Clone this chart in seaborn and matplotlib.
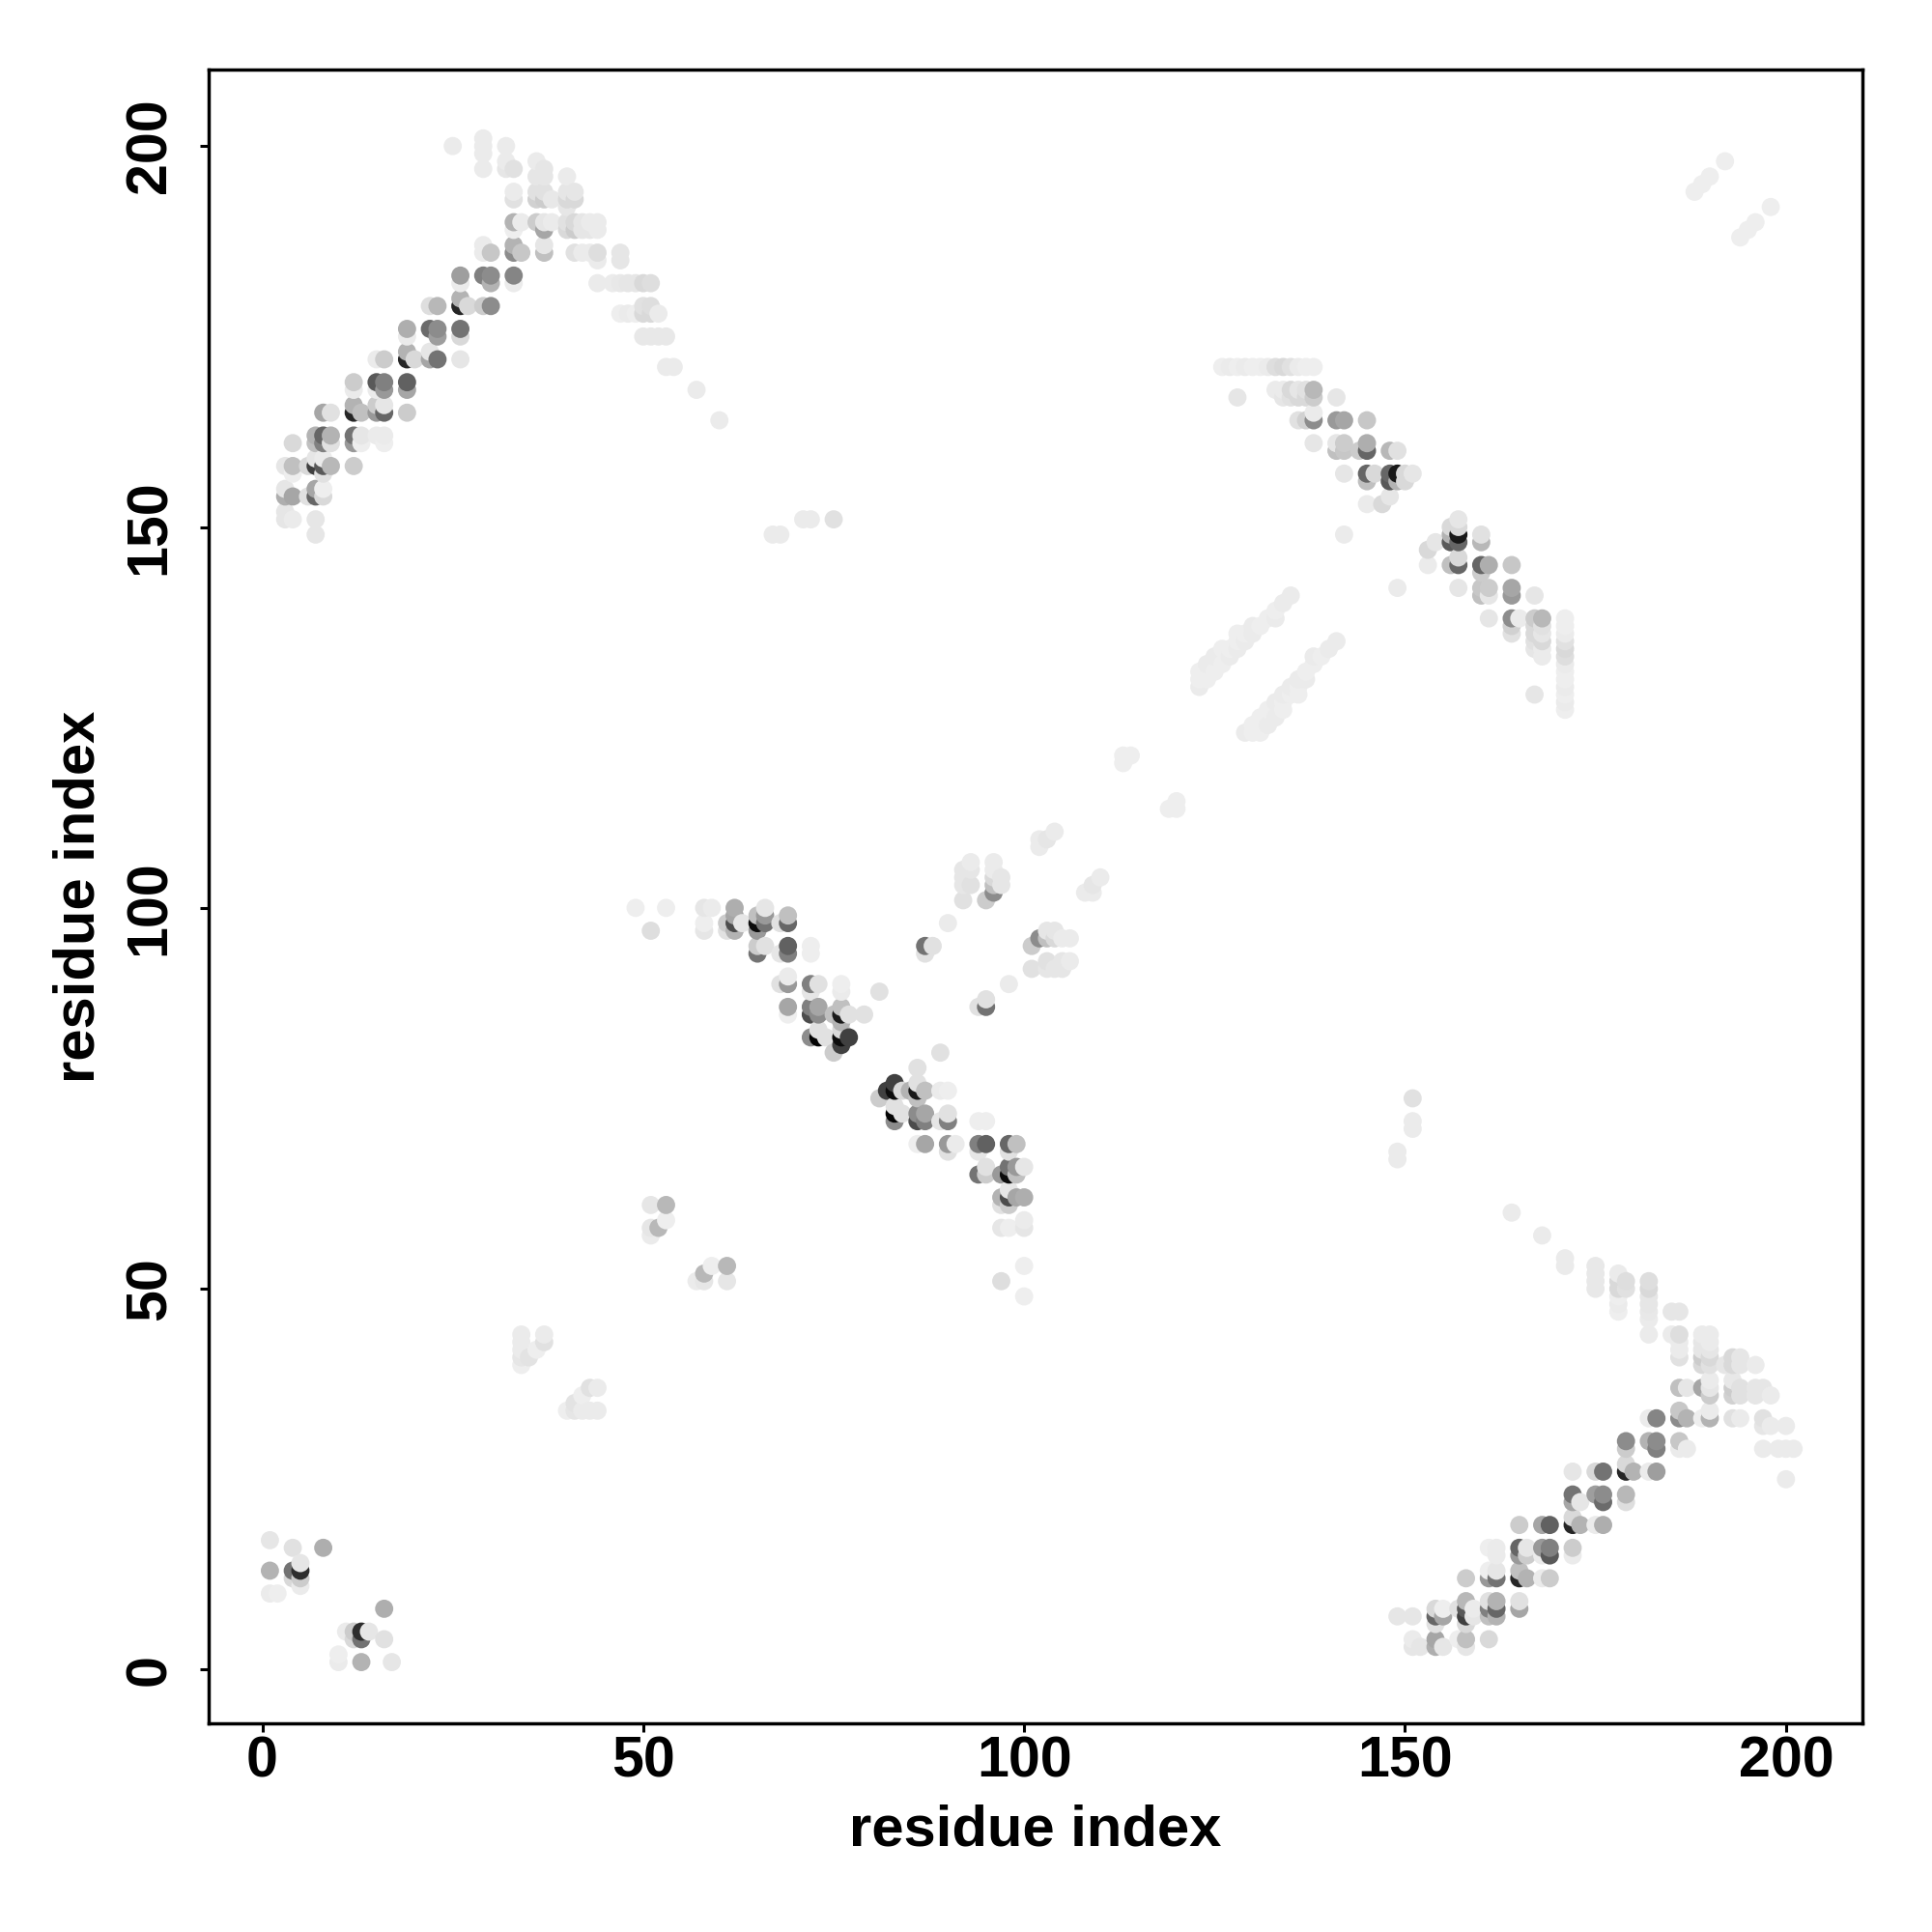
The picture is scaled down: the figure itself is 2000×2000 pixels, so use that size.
import matplotlib
matplotlib.use('Agg')
import matplotlib.pyplot as plt
import pandas as pd
import seaborn as sns

# contacts as (residue i, residue j, grey level), i < j, the map is symmetric
nterm_contacts = [
    (1, 17, .90), (4, 16, .88), (8, 16, .68), (1, 13, .70), (4, 13, .45), (5, 13, .18),
    (5, 14, .90), (4, 12, .85), (5, 12, .80), (5, 11, .92), (1, 10, .92), (2, 10, .93),
]

sheet_low = [
    (7, 149, .90), (3, 151, .90), (4, 151, .92), (7, 151, .90), (3, 152, .90),
    (3, 154, .68), (4, 154, .65), (6, 154, .88), (7, 154, .40), (8, 154, .85),
    (3, 155, .90), (7, 155, .65), (8, 155, .93), (4, 157, .93), (8, 157, .88),
    (3, 158, .90), (4, 158, .75), (6, 158, .85), (7, 158, .25), (8, 158, .35), (9, 158, .72), (12, 158, .80),
    (7, 159, .90), (8, 159, .92),
    (4, 161, .85), (7, 161, .75), (8, 161, .50), (9, 161, .88), (12, 161, .60), (13, 161, .93), (16, 161, .93),
    (7, 162, .70), (8, 162, .40), (9, 162, .70), (12, 162, .45), (13, 162, .90), (15, 162, .92), (16, 162, .92),
    (8, 165, .65), (9, 165, .88), (12, 165, .15), (13, 165, .75), (15, 165, .60), (16, 165, .40), (19, 165, .80),
    (12, 166, .70), (15, 166, .80), (16, 166, .90),
    (12, 168, .92), (15, 168, .92), (16, 168, .60), (19, 168, .65),
    (12, 169, .80), (15, 169, .35), (16, 169, .50), (19, 169, .38),
    (15, 172, .92), (16, 172, .80), (19, 172, .15), (20, 172, .85), (22, 172, .65), (23, 172, .45), (26, 172, .90),
    (19, 173, .70), (22, 173, .90),
]

sheet_high = [
    (19, 175, .92), (23, 175, .62), (26, 175, .85),
    (19, 176, .68), (22, 176, .42), (23, 176, .55), (26, 176, .45),
    (22, 179, .87), (23, 179, .72), (26, 179, .15), (27, 179, .85), (29, 179, .80), (30, 179, .55), (26, 180, .70),
    (26, 182, .92), (30, 182, .70), (33, 182, .92),
    (26, 183, .62), (29, 183, .50), (30, 183, .55), (33, 183, .52),
    (29, 186, .92), (30, 186, .78), (33, 186, .55), (34, 186, .78), (37, 186, .75),
    (29, 187, .92), (33, 187, .70), (37, 187, .90),
    (33, 189, .93), (37, 189, .65), (40, 189, .85), (41, 189, .80), (42, 189, .90), (43, 189, .90), (44, 189, .92),
    (33, 190, .70), (34, 190, .92), (36, 190, .80), (37, 190, .90), (38, 190, .92),
    (40, 190, .88), (41, 190, .85), (42, 190, .90), (43, 190, .92), (44, 190, .92),
    (40, 192, .90), (33, 193, .88), (36, 193, .82), (37, 193, .80), (38, 193, .91), (40, 193, .85), (41, 193, .85),
    (33, 194, .92), (36, 194, .88), (37, 194, .88), (40, 194, .90), (41, 194, .90),
    (36, 196, .90), (37, 196, .90), (40, 196, .92),
    (29, 197, .92), (32, 197, .90), (33, 197, .88), (37, 197, .90),
    (32, 198, .92), (36, 198, .92), (29, 199, .92), (25, 200, .92), (29, 200, .92), (32, 200, .92), (29, 201, .92),
]

sheet_tail = [
    (41, 186, .88), (42, 186, .92), (43, 186, .92), (44, 186, .87), (47, 186, .90), (44, 185, .92), (47, 185, .90),
    (44, 182, .92), (46, 182, .92), (47, 182, .91), (48, 182, .90), (49, 182, .90), (50, 182, .85), (51, 182, .87),
    (50, 179, .88), (51, 179, .87),
    (47, 178, .93), (48, 178, .92), (49, 178, .93), (50, 178, .85), (51, 178, .85), (52, 178, .92),
    (50, 175, .91), (51, 175, .91), (52, 175, .91), (53, 175, .91),
    (53, 171, .92), (54, 171, .92), (57, 168, .92), (60, 164, .92),
]

short_pairs = [
    (34, 40, .93), (34, 41, .90), (35, 41, .89), (34, 42, .92), (36, 42, .93), (34, 43, .92), (37, 43, .88),
    (34, 44, .92), (37, 44, .92),
    (51, 57, .92), (51, 58, .90), (52, 58, .72), (53, 59, .93), (51, 61, .90), (53, 61, .72),
    (49, 100, .93), (53, 100, .93), (51, 97, .87),
    (67, 149, .92), (68, 149, .92), (71, 151, .92), (72, 151, .92), (75, 151, .88),
    (102, 108, .92), (102, 109, .92), (103, 109, .90), (104, 110, .92),
    (113, 119, .93), (113, 120, .93), (114, 120, .93),
    (188, 194, .93), (189, 195, .93), (190, 196, .93), (192, 198, .93),
]

core_contacts = [
    (58, 100, .90), (59, 100, .92), (62, 100, .68), (66, 100, .90),
    (62, 99, .65), (65, 99, .75), (66, 99, .60), (69, 99, .75),
    (58, 98, .93), (61, 98, .80), (62, 98, .30), (63, 98, .90), (65, 98, .05), (66, 98, .45), (68, 98, .88), (69, 98, .40),
    (58, 97, .90), (61, 97, .88), (62, 97, .70), (65, 97, .60),
    (65, 95, .80), (66, 95, .88), (69, 95, .38), (72, 95, .93),
    (65, 94, .45), (68, 94, .90), (69, 94, .50), (72, 94, .93),
    (69, 91, .92), (68, 90, .88), (69, 90, .60), (72, 90, .50), (73, 90, .88), (76, 90, .93),
    (72, 89, .90), (76, 89, .92), (81, 89, .88),
    (69, 87, .65), (72, 87, .50), (73, 87, .65), (76, 87, .75),
    (69, 86, .93), (72, 86, .30), (73, 86, .55), (75, 86, .75), (76, 86, .10), (77, 86, .88), (79, 86, .88),
    (76, 85, .70), (73, 84, .88), (76, 84, .85),
    (72, 83, .55), (73, 83, .02), (74, 83, .88), (76, 83, .05), (77, 83, .25),
    (76, 82, .25), (75, 81, .80),
    (87, 94, .88), (87, 95, .45), (88, 95, .88), (90, 98, .92),
    (95, 101, .80), (92, 101, .88), (96, 102, .55), (96, 103, .75), (97, 103, .90), (92, 103, .90), (93, 103, .88),
    (96, 104, .85), (97, 104, .90), (92, 104, .90), (92, 105, .90), (93, 105, .90), (96, 105, .92),
    (93, 106, .92), (96, 106, .92),
]

hairpin_contacts = [
    (126, 171, .93), (127, 171, .92), (128, 171, .93), (129, 171, .92), (130, 171, .93), (131, 171, .93), (132, 171, .92),
    (133, 171, .87), (134, 171, .85), (135, 171, .88), (136, 171, .92), (137, 171, .93), (138, 171, .93),
    (133, 168, .92), (134, 168, .92), (135, 168, .85), (136, 168, .90), (137, 168, .88), (138, 168, .72),
    (128, 167, .90), (134, 167, .90), (135, 167, .88), (136, 167, .85), (137, 167, .85), (138, 167, .80), (141, 167, .90),
    (138, 165, .92), (136, 164, .88), (137, 164, .82), (138, 164, .55), (141, 164, .60), (142, 164, .65), (145, 164, .78),
    (138, 161, .90), (141, 161, .90), (142, 161, .80), (145, 161, .68),
    (141, 160, .75), (142, 160, .78), (144, 160, .80), (145, 160, .40), (148, 160, .72), (149, 160, .88),
    (142, 157, .90), (145, 157, .40), (146, 157, .85), (148, 157, .40), (149, 157, .10), (150, 157, .85), (151, 157, .90),
    (145, 156, .75), (148, 156, .35), (149, 156, .70), (150, 156, .85),
    (148, 154, .90), (145, 153, .92), (147, 153, .85), (142, 149, .92),
]

ladder_contacts = [
    (123, 129, .92), (123, 130, .93), (123, 131, .93), (124, 130, .93), (124, 131, .93), (124, 132, .92),
    (125, 131, .93), (125, 133, .92), (126, 132, .93), (126, 134, .93), (127, 133, .92), (127, 134, .93),
    (128, 134, .92), (128, 135, .93), (128, 136, .93), (129, 135, .92), (129, 136, .93), (130, 136, .92), (130, 137, .92),
    (131, 137, .93), (132, 138, .93), (133, 138, .92), (133, 139, .93), (134, 140, .92), (135, 141, .92),
]

tick_values = [0, 50, 100, 150, 200]

groups = [nterm_contacts, sheet_low, sheet_high, sheet_tail, short_pairs,
          core_contacts, hairpin_contacts, ladder_contacts]
rows = [row for group in groups for row in group]
upper = pd.DataFrame(rows, columns=['res_x', 'res_y', 'grey'])
lower = upper.rename(columns={'res_x': 'res_y', 'res_y': 'res_x'})

# later residues are drawn over earlier ones, like the original plot
df = pd.concat([upper, lower], ignore_index=True).sort_values(['res_x', 'res_y'])

sns.set_theme(style='white')
plt.rcParams['font.family'] = ['Liberation Sans', 'DejaVu Sans']

fig = plt.figure(figsize=(10, 10), dpi=200)
ax = fig.add_axes([216 / 2000, 216 / 2000, 1712 / 2000, 1712 / 2000])

sns.scatterplot(data=df, x='res_x', y='res_y', hue='grey', palette='gray', hue_norm=(0, 1),
                s=46, linewidth=0, legend=False, ax=ax)

ax.set_xlim(-7.04, 210.04)
ax.set_ylim(-7.04, 210.04)
ax.set_xticks(tick_values)
ax.set_yticks(tick_values)
ax.tick_params(axis='x', length=3.2, width=1.1, color='black', labelsize=21.3, pad=1.2,
               bottom=True, labelcolor='black')
ax.tick_params(axis='y', length=3.2, width=1.1, color='black', labelsize=21.3, pad=8.6,
               left=True, labelcolor='black')
for label in ax.get_xticklabels():
    label.set_fontweight('bold')
for label in ax.get_yticklabels():
    label.set_fontweight('bold')
    label.set_rotation(90)
    label.set_verticalalignment('center')

for spine in ax.spines.values():
    spine.set_color('black')
    spine.set_linewidth(1.25)

ax.set_xlabel('residue index', fontsize=21.5, fontweight='bold', color='black', labelpad=6)
ax.set_ylabel('residue index', fontsize=21.5, fontweight='bold', color='black', labelpad=6.8)

fig.savefig('out.png', dpi=200)
